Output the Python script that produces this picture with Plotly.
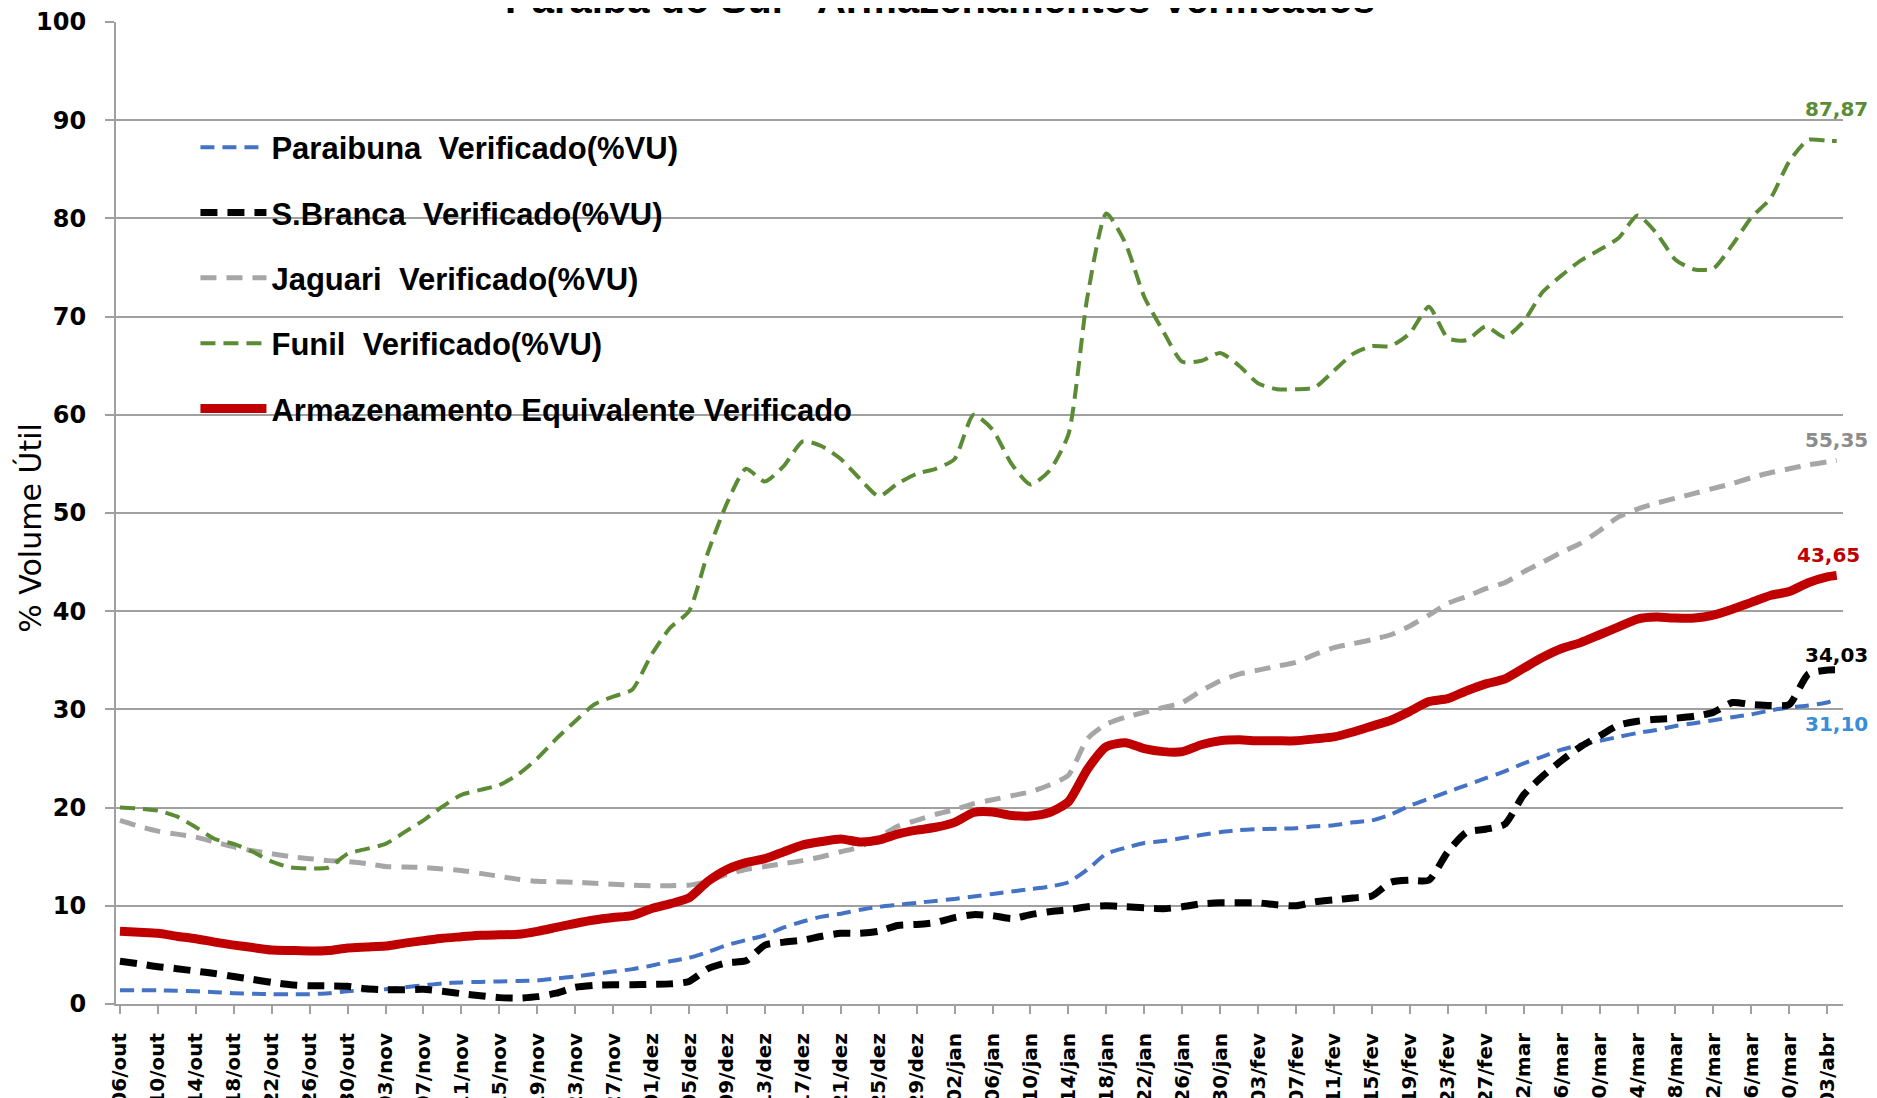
import plotly.graph_objects as go

dates = [
    "2015-10-06", "2015-10-08", "2015-10-10", "2015-10-12", "2015-10-14", "2015-10-16", "2015-10-18", "2015-10-20", "2015-10-22", "2015-10-24",
    "2015-10-26", "2015-10-28", "2015-10-30", "2015-11-01", "2015-11-03", "2015-11-05", "2015-11-07", "2015-11-09", "2015-11-11", "2015-11-13",
    "2015-11-15", "2015-11-17", "2015-11-19", "2015-11-21", "2015-11-23", "2015-11-25", "2015-11-27", "2015-11-29", "2015-12-01", "2015-12-03",
    "2015-12-05", "2015-12-07", "2015-12-09", "2015-12-11", "2015-12-13", "2015-12-15", "2015-12-17", "2015-12-19", "2015-12-21", "2015-12-23",
    "2015-12-25", "2015-12-27", "2015-12-29", "2015-12-31", "2016-01-02", "2016-01-04", "2016-01-06", "2016-01-08", "2016-01-10", "2016-01-12",
    "2016-01-14", "2016-01-16", "2016-01-18", "2016-01-20", "2016-01-22", "2016-01-24", "2016-01-26", "2016-01-28", "2016-01-30", "2016-02-01",
    "2016-02-03", "2016-02-05", "2016-02-07", "2016-02-09", "2016-02-11", "2016-02-13", "2016-02-15", "2016-02-17", "2016-02-19", "2016-02-21",
    "2016-02-23", "2016-02-25", "2016-02-27", "2016-02-29", "2016-03-02", "2016-03-04", "2016-03-06", "2016-03-08", "2016-03-10", "2016-03-12",
    "2016-03-14", "2016-03-16", "2016-03-18", "2016-03-20", "2016-03-22", "2016-03-24", "2016-03-26", "2016-03-28", "2016-03-30", "2016-04-01",
    "2016-04-03", "2016-04-04",
]

paraibuna = [
    1.4, 1.4, 1.4, 1.35, 1.3, 1.2, 1.1, 1.05, 1.0, 1.0,
    1.0, 1.1, 1.3, 1.4, 1.5, 1.7, 1.9, 2.1, 2.2, 2.25,
    2.3, 2.35, 2.4, 2.6, 2.8, 3.05, 3.3, 3.55, 3.9, 4.35,
    4.7, 5.3, 6.0, 6.5, 7.0, 7.8, 8.4, 8.9, 9.2, 9.6,
    9.9, 10.1, 10.3, 10.5, 10.7, 10.95, 11.2, 11.45, 11.7, 11.95,
    12.4, 13.7, 15.3, 15.9, 16.4, 16.6, 16.9, 17.2, 17.5, 17.7,
    17.8, 17.85, 17.9, 18.1, 18.2, 18.5, 18.7, 19.3, 20.2, 20.9,
    21.6, 22.3, 23.0, 23.7, 24.5, 25.2, 25.9, 26.4, 26.8, 27.2,
    27.6, 27.9, 28.3, 28.6, 28.9, 29.2, 29.5, 29.9, 30.2, 30.4,
    30.7, 31.10,
]

sbranca = [
    4.35, 4.1, 3.8, 3.6, 3.35, 3.1, 2.8, 2.5, 2.2, 1.95,
    1.85, 1.85, 1.8, 1.55, 1.45, 1.45, 1.5, 1.3, 1.05, 0.85,
    0.65, 0.6, 0.75, 1.1, 1.7, 1.9, 1.95, 1.95, 2.0, 2.05,
    2.3, 3.6, 4.2, 4.4, 6.0, 6.3, 6.5, 6.9, 7.2, 7.2,
    7.4, 8.0, 8.1, 8.3, 8.8, 9.1, 9.0, 8.7, 9.1, 9.4,
    9.6, 9.9, 10.0, 9.9, 9.8, 9.7, 9.9, 10.2, 10.3, 10.3,
    10.3, 10.1, 10.0, 10.4, 10.6, 10.8, 11.0, 12.4, 12.6, 12.6,
    15.5, 17.5, 17.8, 18.3, 21.3, 23.2, 24.8, 26.2, 27.3, 28.4,
    28.8, 29.0, 29.1, 29.3, 29.7, 30.7, 30.5, 30.4, 30.5, 33.6,
    34.0, 34.03,
]

jaguari = [
    18.7, 18.1, 17.6, 17.3, 17.0, 16.5, 16.0, 15.6, 15.3, 15.0,
    14.8, 14.6, 14.5, 14.3, 14.0, 13.95, 13.9, 13.75, 13.6, 13.3,
    13.0, 12.7, 12.5, 12.45, 12.4, 12.3, 12.2, 12.1, 12.05, 12.05,
    12.1, 12.5, 13.2, 13.7, 14.0, 14.3, 14.6, 15.0, 15.5, 16.0,
    17.0, 18.1, 18.7, 19.3, 19.8, 20.4, 20.8, 21.2, 21.6, 22.3,
    23.3, 27.0, 28.5, 29.2, 29.7, 30.2, 30.7, 31.9, 32.9, 33.6,
    34.0, 34.4, 34.8, 35.6, 36.3, 36.7, 37.1, 37.6, 38.5, 39.6,
    40.8, 41.5, 42.3, 42.9, 44.0, 45.0, 46.0, 46.9, 48.2, 49.6,
    50.4, 51.0, 51.5, 52.0, 52.5, 53.0, 53.6, 54.1, 54.5, 54.9,
    55.2, 55.35,
]

funil = [
    20.0, 19.9, 19.7, 19.1, 18.0, 16.8, 16.3, 15.5, 14.5, 13.9,
    13.8, 13.9, 15.3, 15.8, 16.3, 17.5, 18.7, 20.1, 21.3, 21.8,
    22.3, 23.4, 25.0, 27.0, 28.8, 30.5, 31.3, 32.0, 35.5, 38.3,
    40.0, 46.0, 51.0, 54.5, 53.2, 54.8, 57.3, 56.8, 55.5, 53.5,
    51.7, 53.0, 54.0, 54.5, 55.5, 60.0, 58.5, 55.0, 52.9, 54.3,
    58.0, 72.0, 80.5, 77.5, 72.0, 68.5, 65.4, 65.5, 66.3, 65.0,
    63.2, 62.6, 62.6, 62.8, 64.5, 66.2, 67.0, 67.0, 68.3, 71.0,
    67.8, 67.6, 69.0, 67.9, 69.5, 72.5, 74.2, 75.7, 76.8, 78.0,
    80.3, 78.5, 75.8, 74.8, 74.9, 77.3, 80.1, 82.0, 85.8, 88.0,
    87.9, 87.87,
]

armazenamento = [
    7.4, 7.3, 7.2, 6.9, 6.65, 6.3, 6.0, 5.75, 5.5, 5.45,
    5.4, 5.45, 5.7, 5.8, 5.9, 6.2, 6.45, 6.7, 6.85, 7.0,
    7.05, 7.1, 7.4, 7.8, 8.2, 8.55, 8.8, 9.0, 9.7, 10.2,
    10.8, 12.5, 13.7, 14.4, 14.8, 15.5, 16.2, 16.55, 16.8, 16.5,
    16.7, 17.3, 17.7, 18.0, 18.5, 19.5, 19.55, 19.2, 19.15, 19.5,
    20.6, 23.9, 26.2, 26.6, 26.0, 25.7, 25.7, 26.4, 26.8, 26.9,
    26.8, 26.8, 26.8, 27.0, 27.2, 27.7, 28.3, 28.9, 29.8, 30.8,
    31.1, 31.9, 32.6, 33.1, 34.2, 35.3, 36.2, 36.8, 37.6, 38.4,
    39.2, 39.4, 39.3, 39.3, 39.6, 40.2, 40.9, 41.6, 42.0, 42.9,
    43.5, 43.65,
]

tick_labels = [
    "06/out", "10/out", "14/out", "18/out", "22/out", "26/out", "30/out",
    "03/nov", "07/nov", "11/nov", "15/nov", "19/nov", "23/nov", "27/nov",
    "01/dez", "05/dez", "09/dez", "13/dez", "17/dez", "21/dez", "25/dez", "29/dez",
    "02/jan", "06/jan", "10/jan", "14/jan", "18/jan", "22/jan", "26/jan", "30/jan",
    "03/fev", "07/fev", "11/fev", "15/fev", "19/fev", "23/fev", "27/fev",
    "02/mar", "06/mar", "10/mar", "14/mar", "18/mar", "22/mar", "26/mar", "30/mar",
    "03/abr",
]
tick_dates = dates[:-1:2]

# name, values, line colour, width, dash, label colour, label yshift, label xshift
series = [
    ("Paraibuna  Verificado(%VU)", paraibuna, "#4472C4", 4, "14px,8px", "#3A8DD8", -25, 0),
    ("S.Branca  Verificado(%VU)", sbranca, "#000000", 7, "17px,10px", "#000000", 15, 0),
    ("Jaguari  Verificado(%VU)", jaguari, "#A6A6A6", 5, "16px,10px", "#8C8C8C", 20, 0),
    ("Funil  Verificado(%VU)", funil, "#5B8C35", 4, "15px,8px", "#5B8C35", 32, 0),
    ("Armazenamento Equivalente Verificado", armazenamento, "#C00000", 9, "solid", "#C00000", 20, -8),
]

fig = go.Figure()
for i, (name, vals, color, width, dash, lblcolor, ys, xs) in enumerate(series):
    fig.add_trace(go.Scatter(
        x=dates, y=vals, name=name, mode="lines",
        line=dict(color=color, width=width, dash=dash, shape="spline", smoothing=0.6),
        legendgroup=f"g{i}", hoverinfo="skip",
    ))
    fig.add_annotation(
        x=dates[-1], y=vals[-1], xref="x", yref="y",
        text=f"{vals[-1]:.2f}".replace(".", ","), showarrow=False,
        xanchor="center", yanchor="middle", yshift=ys, xshift=xs,
        font=dict(family="DejaVu Sans", size=20, color=lblcolor, weight="bold"),
    )

# y-axis title
fig.add_annotation(
    text="% Volume Útil", xref="paper", yref="paper", x=-0.0498, y=0.485,
    xanchor="center", yanchor="middle", textangle=-90, showarrow=False,
    font=dict(family="DejaVu Sans", size=30, color="black"),
)

fig.update_layout(
    width=1877, height=1098,
    margin=dict(l=108, r=42, t=13.5, b=101.5, autoexpand=False),
    paper_bgcolor="white", plot_bgcolor="white",
    title=dict(
        text="Paraíba do Sul - Armazenamentos Verificados",
        xref="container", x=0.4965, xanchor="center",
        yref="paper", y=1, yanchor="bottom", pad=dict(b=9, t=0),
        font=dict(family="Liberation Sans Narrow, Liberation Sans", size=40, color="black", weight="bold"),
    ),
    showlegend=True,
    legend=dict(
        x=0.046, y=0.8996, xanchor="left", yanchor="top",
        bgcolor="rgba(0,0,0,0)", itemwidth=66, tracegroupgap=22,
        font=dict(family="Liberation Sans Narrow, Liberation Sans", size=31, color="black", weight="bold"),
    ),
    xaxis=dict(
        type="date", range=["2015-10-05 14:00", "2016-04-04 16:00"],
        tickmode="array", tickvals=tick_dates, ticktext=tick_labels, tickangle=-90,
        tickfont=dict(family="DejaVu Sans", size=20, color="black", weight="bold"),
        ticks="outside", ticklen=8, tickcolor="#A0A0A0", tickwidth=1.5, ticklabelstandoff=11,
        showline=True, linecolor="#A0A0A0", linewidth=2, showgrid=False, zeroline=False,
        automargin=False,
    ),
    yaxis=dict(
        range=[0, 100], dtick=10, tick0=0,
        tickfont=dict(family="DejaVu Sans", size=24, color="black", weight="bold"),
        ticks="outside", ticklen=9, tickcolor="#A0A0A0", tickwidth=1.5, ticklabelstandoff=14,
        showline=True, linecolor="#A0A0A0", linewidth=2,
        showgrid=True, gridcolor="#A0A0A0", gridwidth=1.5, zeroline=False,
        automargin=False,
    ),
)

fig.write_html("out.html")
